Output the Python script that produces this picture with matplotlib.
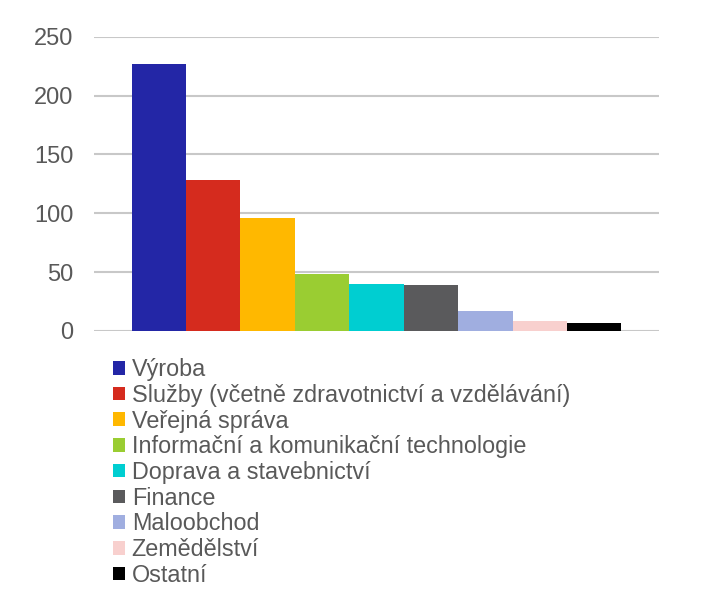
import matplotlib.pyplot as plt
from matplotlib.patches import Patch
import numpy as np

plt.rcParams['font.family'] = ['Liberation Sans', 'DejaVu Sans']

categories = ['Výroba', 'Služby (včetně zdravotnictví a vzdělávání)', 'Veřejná správa',
              'Informační a komunikační technologie', 'Doprava a stavebnictví', 'Finance',
              'Maloobchod', 'Zemědělství', 'Ostatní']
values = [227, 128.5, 96, 48, 39.8, 39, 17, 8.9, 7]
colors = ['#2326A6', '#D52B1E', '#FFB800', '#9ACD32', '#00CED1', '#5A5A5C',
          '#A0AEE0', '#F8D0CE', '#000000']
yticks = [0, 50, 100, 150, 200, 250]

fig = plt.figure(figsize=(7.05, 5.95), dpi=100)
ax = fig.add_axes([0.1333, 0.4437, 0.8015, 0.4946])

x = np.arange(len(values))
ax.bar(x, values, width=1.0, color=colors, zorder=3)

ax.set_xlim(-1.19, len(values) - 1 + 1.19)
ax.set_ylim(0, 250)
ax.set_yticks(yticks)
ax.set_xticks([])
ax.yaxis.grid(True, color='#C8C8C8', linewidth=1.5, zorder=0)
for s in ax.spines.values():
    s.set_visible(False)
ax.tick_params(axis='y', length=0, pad=15, labelsize=17, labelcolor='#595959')

handles = [Patch(facecolor=c) for c in colors]
leg = fig.legend(handles, categories, loc='upper left', bbox_to_anchor=(0.16, 0.398),
                 frameon=False, fontsize=16.8, handlelength=0.52, handleheight=0.52,
                 handletextpad=0.29, labelspacing=0.115, borderaxespad=0, borderpad=0)
for t in leg.get_texts():
    t.set_color('#595959')

fig.savefig('out.png', dpi=100)
